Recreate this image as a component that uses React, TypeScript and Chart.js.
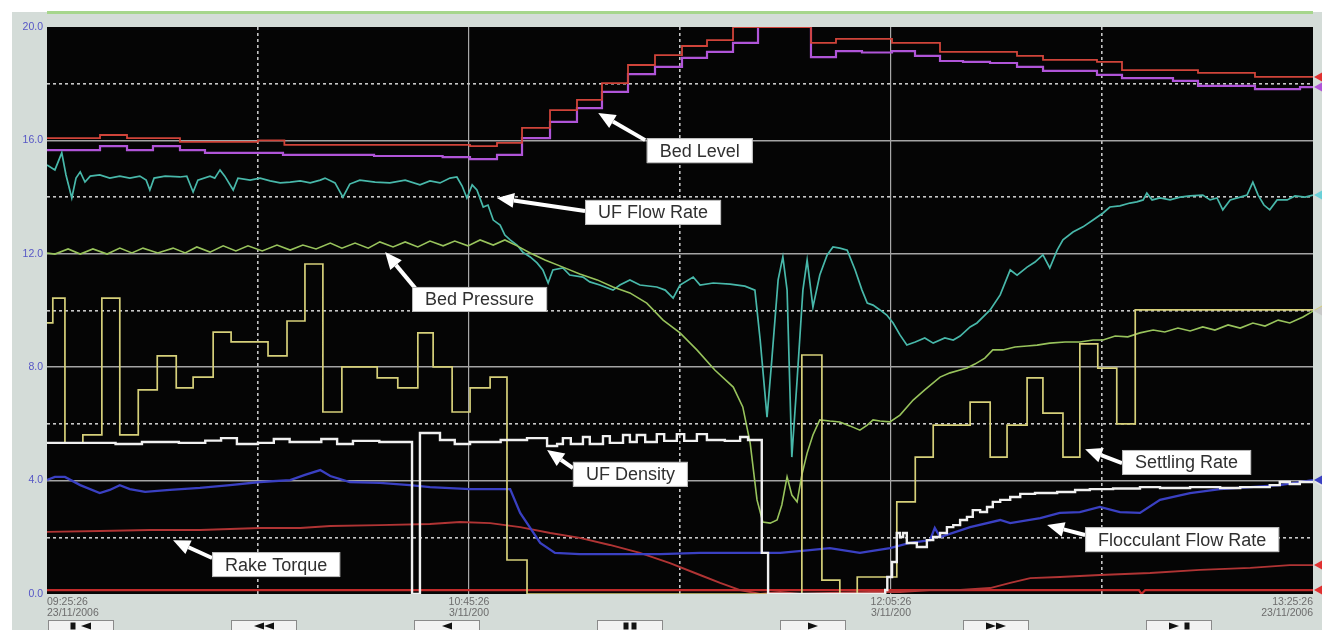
import React, { useEffect, useRef } from 'react';
import { Chart, registerables } from 'chart.js';

Chart.register(...registerables);

// ---- axis / tick labels (x in minutes from 09:25:26) ----
const tickMinutes = [0, 80, 160, 240];
const tickTimes = ['09:25:26', '10:45:26', '12:05:26', '13:25:26'];
const tickDates = ['23/11/2006', '3/11/200', '3/11/200', '23/11/2006'];
const yLabelValues = [0, 4, 8, 12, 16, 20];

// ---- Bed Level (two stepped traces) ----
const bedHiT = [0, 10.05, 15.17, 25.21, 40.0, 45.0, 80.19, 85.31, 90.05, 95.36, 100.47, 105.21, 110.14, 115.26, 120.38, 125.12, 130.05, 144.83, 149.57, 160.19, 169.29, 183.89, 188.82, 199.05, 203.79, 218.2, 229.0, 240];
const bedHiV = [16.08, 16.19, 16.08, 15.95, 16.0, 15.84, 15.8, 15.91, 16.44, 17.07, 17.43, 18.02, 18.66, 19.01, 19.33, 19.54, 20.0, 19.44, 19.58, 19.44, 19.12, 18.98, 18.84, 18.77, 18.48, 18.38, 18.24, 18.24];
const bedLoT = [0, 10.05, 15.17, 20.09, 25.21, 29.95, 44.74, 62.0, 75.0, 80.19, 85.31, 90.05, 95.36, 100.47, 105.21, 110.14, 115.26, 120.38, 125.12, 130.05, 134.79, 144.83, 149.57, 154.5, 160.19, 164.55, 169.29, 173.65, 178.77, 183.89, 188.82, 199.05, 203.79, 213.46, 218.2, 229.0, 237.54, 240];
const bedLoV = [15.66, 15.8, 15.66, 15.8, 15.66, 15.56, 15.49, 15.45, 15.41, 15.34, 15.49, 16.08, 16.65, 17.14, 17.71, 18.34, 18.59, 18.91, 19.12, 19.44, 20.0, 18.94, 19.15, 19.1, 19.15, 18.98, 18.8, 18.77, 18.73, 18.59, 18.45, 18.31, 18.2, 18.1, 17.92, 17.81, 17.88, 17.88];

// ---- UF Flow Rate ----
const ufFlowT = [0, 1.5, 2.8, 3.6, 4.7, 5.5, 6.3, 7.2, 8.2, 10.0, 11.9, 13.8, 15.7, 17.6, 18.8, 19.5, 20.3, 22.4, 25.2, 26.5, 27.7, 28.6, 30.9, 31.8, 32.8, 33.7, 35.3, 36.2, 38.5, 40.4, 42.3, 44.2, 46.1, 48.0, 49.9, 51.8, 52.7, 54.6, 56.1, 57.4, 59.3, 62.2, 65.0, 67.9, 70.7, 72.6, 74.5, 76.4, 77.7, 78.7, 79.6, 80.6, 81.5, 82.7, 83.6, 84.6, 85.9, 86.8, 87.8, 89.1, 90.2, 91.6, 92.9, 94.0, 95.0, 95.9, 97.8, 99.1, 101.6, 102.9, 104.8, 107.3, 108.6, 110.5, 112.4, 115.6, 117.2, 118.7, 120.0, 122.5, 123.8, 126.3, 129.5, 132.3, 134.2, 135.2, 136.5, 137.4, 138.6, 139.5, 140.3, 141.2, 142.2, 143.3, 144.1, 145.2, 146.5, 147.9, 149.0, 150.3, 151.7, 153.2, 154.5, 155.5, 156.6, 157.9, 159.2, 160.4, 161.7, 163.0, 164.6, 166.4, 168.0, 170.2, 171.8, 173.1, 175.0, 176.3, 177.8, 178.8, 180.7, 182.6, 183.9, 185.8, 187.3, 188.8, 190.1, 191.5, 192.6, 194.5, 196.4, 198.3, 200.2, 201.5, 203.4, 205.3, 206.6, 207.8, 208.5, 209.5, 211.0, 212.9, 214.8, 216.7, 219.1, 220.5, 221.8, 222.9, 224.3, 226.2, 227.5, 228.6, 229.6, 230.7, 231.8, 233.2, 235.1, 236.6, 238.5, 240];
const ufFlowV = [15.13, 14.96, 15.56, 14.78, 13.97, 14.67, 14.89, 14.53, 14.74, 14.78, 14.67, 14.74, 14.67, 14.74, 14.6, 14.25, 14.67, 14.74, 14.71, 14.74, 14.18, 14.6, 14.74, 14.67, 14.96, 14.74, 14.25, 14.67, 14.6, 14.67, 14.57, 14.5, 14.53, 14.57, 14.5, 14.6, 14.67, 14.5, 14.0, 14.46, 14.6, 14.53, 14.5, 14.6, 14.43, 14.57, 14.5, 14.67, 14.71, 14.39, 13.97, 14.43, 14.25, 13.65, 13.72, 13.19, 13.01, 12.66, 12.49, 12.31, 12.06, 11.89, 11.68, 11.43, 10.97, 11.43, 11.5, 11.25, 11.18, 11.01, 10.9, 10.72, 10.9, 11.08, 10.9, 10.83, 10.72, 10.44, 10.9, 11.18, 10.9, 10.97, 10.93, 10.86, 10.72, 8.96, 6.24, 8.25, 11.08, 11.89, 10.72, 4.83, 7.55, 10.72, 11.78, 10.12, 11.25, 11.96, 12.24, 12.2, 12.13, 11.43, 10.72, 10.26, 10.19, 10.02, 9.84, 9.56, 9.14, 8.78, 8.89, 9.03, 8.85, 9.03, 8.96, 9.1, 9.42, 9.56, 9.84, 10.02, 10.55, 11.43, 11.25, 11.53, 11.71, 11.96, 11.5, 12.13, 12.49, 12.77, 12.95, 13.19, 13.44, 13.65, 13.69, 13.79, 13.83, 13.9, 14.14, 13.9, 13.97, 13.9, 14.0, 14.04, 14.07, 13.9, 13.97, 13.55, 13.9, 14.0, 14.07, 14.53, 14.07, 13.72, 13.55, 13.9, 13.9, 14.04, 14.0, 14.07];

// ---- Bed Pressure ----
const bedPresT = [0, 1.5, 4.0, 6.3, 8.7, 11.4, 13.8, 16.1, 18.2, 21.0, 23.9, 26.2, 28.4, 30.9, 33.4, 35.8, 38.1, 40.8, 43.6, 46.1, 48.5, 51.0, 53.7, 55.9, 58.4, 60.9, 63.1, 65.6, 67.9, 70.3, 72.6, 75.1, 77.3, 79.8, 82.1, 84.6, 86.8, 89.1, 91.6, 94.4, 97.8, 101.0, 104.3, 107.3, 110.5, 113.7, 116.8, 120.0, 123.2, 126.6, 130.1, 131.9, 133.3, 134.6, 135.7, 137.1, 138.4, 139.3, 140.3, 141.2, 142.2, 143.1, 144.1, 145.2, 146.5, 148.4, 150.3, 152.2, 154.1, 155.5, 156.6, 157.9, 159.8, 161.7, 164.2, 166.4, 169.3, 171.2, 173.1, 174.4, 175.9, 177.8, 179.3, 181.2, 183.5, 185.8, 187.7, 190.1, 193.0, 195.8, 198.3, 200.2, 202.5, 204.9, 207.2, 209.7, 211.9, 214.4, 216.7, 219.1, 221.4, 223.9, 226.2, 228.6, 230.9, 233.4, 235.6, 238.1, 240];
const bedPresV = [12.03, 11.99, 12.17, 11.99, 12.17, 11.99, 12.2, 12.03, 12.2, 12.03, 12.2, 12.03, 12.24, 12.06, 12.28, 12.1, 12.28, 12.1, 12.31, 12.13, 12.31, 12.17, 12.38, 12.2, 12.38, 12.2, 12.42, 12.24, 12.42, 12.24, 12.45, 12.28, 12.45, 12.28, 12.49, 12.31, 12.49, 12.28, 12.03, 11.78, 11.53, 11.29, 11.08, 10.83, 10.62, 10.26, 9.66, 9.21, 8.61, 7.9, 7.3, 6.6, 5.33, 3.32, 2.54, 2.5, 2.61, 3.14, 4.13, 3.49, 3.25, 4.2, 4.97, 5.61, 6.14, 6.1, 6.07, 5.93, 5.78, 5.96, 6.14, 6.1, 6.07, 6.31, 6.84, 7.2, 7.65, 7.8, 7.9, 7.97, 8.11, 8.32, 8.61, 8.61, 8.71, 8.75, 8.78, 8.85, 8.89, 8.89, 8.96, 8.96, 9.1, 9.07, 9.21, 9.31, 9.24, 9.38, 9.28, 9.42, 9.31, 9.49, 9.38, 9.56, 9.45, 9.66, 9.56, 9.77, 9.98];

// ---- Settling Rate (stepped) ----
const settleT = [0, 1.1, 3.4, 6.8, 10.4, 13.8, 17.3, 20.9, 24.5, 27.7, 31.5, 34.9, 41.9, 45.5, 48.9, 52.3, 55.9, 62.6, 66.5, 70.3, 73.2, 76.8, 80.2, 84.0, 87.2, 91.0, 143.1, 146.9, 150.3, 153.6, 161.1, 164.6, 168.0, 175.0, 178.8, 182.0, 185.8, 188.8, 192.6, 195.8, 199.2, 202.8, 206.3, 240];
const settleV = [9.56, 10.44, 5.33, 5.61, 10.44, 5.61, 7.2, 8.4, 7.27, 7.65, 9.24, 8.89, 8.4, 9.63, 11.64, 6.42, 8.01, 7.62, 7.27, 9.21, 8.01, 6.42, 7.27, 7.65, 1.2, 0.0, 8.43, 0.49, 0.0, 0.6, 3.25, 4.83, 5.96, 6.77, 4.83, 5.96, 7.62, 6.38, 4.83, 8.82, 7.97, 6.0, 10.02, 10.02];

// ---- UF Density (stepped) ----
const ufDenT = [0, 13, 18, 25, 30, 33, 36, 40, 43, 46, 52, 55, 58, 63, 69.2, 70.7, 74.5, 77.3, 80.2, 86, 91, 93.5, 94.8, 96.7, 97.8, 99.3, 101.6, 102.9, 105.4, 106.7, 109.2, 110.5, 111.8, 113.4, 115.6, 117.0, 119.4, 120.8, 123.2, 125.1, 128.5, 131.4, 132.9, 135.5, 136.7, 158.9, 159.3, 160.2, 161.1, 161.7, 162.3, 163.0, 164.9, 166.8, 168.0, 169.3, 170.6, 171.8, 173.1, 174.4, 175.5, 176.9, 178.2, 179.3, 180.7, 182.6, 184.5, 187.3, 191.5, 194.9, 197.7, 202.1, 207.2, 211.0, 216.7, 222.4, 226.2, 231.8, 233.7, 235.6, 237.5, 240];
const ufDenV = [5.33, 5.29, 5.36, 5.33, 5.41, 5.5, 5.29, 5.33, 5.47, 5.36, 5.47, 5.29, 5.4, 5.36, 0, 5.68, 5.43, 5.29, 5.36, 5.43, 5.5, 5.5, 5.22, 5.29, 5.5, 5.29, 5.54, 5.29, 5.57, 5.33, 5.61, 5.36, 5.61, 5.36, 5.64, 5.4, 5.64, 5.4, 5.64, 5.43, 5.4, 5.54, 5.43, 1.45, 0, 0.14, 0.6, 1.13, 2.15, 2.01, 2.15, 1.8, 1.66, 1.9, 2.01, 2.15, 2.36, 2.43, 2.61, 2.72, 2.96, 2.89, 3.07, 3.25, 3.32, 3.42, 3.53, 3.56, 3.6, 3.67, 3.7, 3.72, 3.77, 3.74, 3.77, 3.74, 3.77, 3.84, 3.95, 3.88, 3.95, 3.95];

// ---- Flocculant Flow Rate ----
const flocT = [0, 1.5, 3.4, 6.3, 10.0, 11.9, 13.8, 15.7, 18.6, 23.3, 29.0, 34.7, 40.4, 46.1, 48.9, 51.8, 53.7, 57.4, 63.1, 68.8, 72.6, 80.2, 87.8, 89.7, 91.6, 93.5, 96.3, 101.0, 108.6, 116.2, 123.8, 131.4, 139.0, 144.6, 148.4, 154.1, 159.8, 163.6, 167.4, 168.3, 169.3, 175.0, 180.7, 182.6, 188.3, 192.0, 195.8, 199.6, 203.4, 207.2, 211.0, 216.7, 222.4, 228.1, 233.7, 240];
const flocV = [4.02, 4.13, 4.13, 3.84, 3.56, 3.67, 3.84, 3.7, 3.6, 3.67, 3.74, 3.84, 3.95, 4.02, 4.2, 4.37, 4.16, 3.95, 3.92, 3.84, 3.77, 3.7, 3.7, 2.86, 2.33, 1.8, 1.45, 1.41, 1.41, 1.41, 1.45, 1.45, 1.45, 1.55, 1.62, 1.45, 1.62, 1.8, 1.9, 2.33, 2.01, 2.36, 2.61, 2.5, 2.68, 2.86, 2.89, 3.07, 2.89, 2.86, 3.32, 3.56, 3.7, 3.77, 3.84, 4.02];

// ---- Rake Torque ----
const rakeT = [0, 10.0, 19.5, 29.0, 40.4, 48.0, 53.7, 63.1, 72.6, 78.3, 84.0, 89.7, 95.4, 101.0, 106.7, 112.4, 118.1, 123.8, 127.6, 131.4, 135.2, 139.0, 142.7, 148.4, 156.0, 161.7, 167.4, 173.1, 178.8, 182.6, 186.4, 192.0, 199.6, 209.1, 218.6, 228.1, 235.6, 240];
const rakeV = [2.19, 2.22, 2.26, 2.26, 2.33, 2.33, 2.4, 2.43, 2.47, 2.54, 2.5, 2.36, 2.15, 1.98, 1.73, 1.45, 1.09, 0.67, 0.39, 0.14, 0.0, 0.07, 0.0, 0.04, 0.07, 0.07, 0.14, 0.14, 0.21, 0.39, 0.56, 0.6, 0.67, 0.74, 0.85, 0.92, 1.02, 1.02];

// ---- low red reference trace ----
const baseT = [0, 207.0, 207.5, 208.2, 240];
const baseV = [0.14, 0.14, 0.0, 0.14, 0.14];

// ---- annotations (data coordinates) ----
const annoText = ['Bed Level', 'UF Flow Rate', 'Bed Pressure', 'UF Density', 'Rake Torque', 'Settling Rate', 'Flocculant Flow Rate'];
const annoBoxT = [113.7, 102.0, 69.2, 99.7, 31.3, 203.8, 196.8];
const annoBoxV = [16.08, 13.9, 10.83, 4.66, 1.48, 5.08, 2.36];
const annoTipT = [104.5, 85.3, 64.1, 94.8, 23.9, 196.8, 189.6];
const annoTipV = [16.97, 13.97, 12.06, 5.08, 1.9, 5.11, 2.43];
const annoTailT = [113.4, 102.0, 69.8, 99.7, 31.3, 203.8, 196.8];
const annoTailV = [16.01, 13.51, 10.79, 4.44, 1.27, 4.62, 2.08];

const buttonKinds = ['first', 'rew', 'back', 'pause', 'play', 'ff', 'last'];

const pts = (t: number[], v: number[]) => t.map((x, i) => ({ x, y: v[i] }));

const FONT = '"Liberation Sans", Arial, sans-serif';

const decoPlugin = {
  id: 'deco',
  beforeDraw(chart: any) {
    const { ctx, chartArea, width, height } = chart;
    ctx.save();
    ctx.fillStyle = '#ffffff';
    ctx.fillRect(0, 0, width, height);
    ctx.fillStyle = '#d4dcd8';
    ctx.fillRect(12, 12, width - 12, height - 12);
    ctx.fillStyle = '#a6d68c';
    ctx.fillRect(chartArea.left, 11, chartArea.right - chartArea.left, 3);
    ctx.fillStyle = '#050505';
    ctx.fillRect(chartArea.left, chartArea.top, chartArea.right - chartArea.left, chartArea.bottom - chartArea.top);
    ctx.restore();
  },
  afterDraw(chart: any) {
    const { ctx, chartArea } = chart;
    const xs = chart.scales.x;
    const ys = chart.scales.y;
    ctx.save();
    // right-edge value markers
    chart.data.datasets.forEach((ds: any, i: number) => {
      const meta = chart.getDatasetMeta(i);
      const last = meta.data[meta.data.length - 1];
      if (!last) return;
      const y = last.y;
      ctx.fillStyle = ds.markerColor || ds.borderColor;
      ctx.beginPath();
      ctx.moveTo(chartArea.right + 1, y);
      ctx.lineTo(chartArea.right + 9, y - 4.5);
      ctx.lineTo(chartArea.right + 9, y + 4.5);
      ctx.closePath();
      ctx.fill();
    });
    // annotations
    ctx.font = '18px ' + FONT;
    ctx.textBaseline = 'middle';
    ctx.textAlign = 'left';
    annoText.forEach((txt, i) => {
      const bx = xs.getPixelForValue(annoBoxT[i]);
      const by = ys.getPixelForValue(annoBoxV[i]);
      const tw = ctx.measureText(txt).width;
      const bw = tw + 26;
      const bh = 25;
      const tx = xs.getPixelForValue(annoTipT[i]);
      const ty = ys.getPixelForValue(annoTipV[i]);
      const sx = xs.getPixelForValue(annoTailT[i]);
      const sy = ys.getPixelForValue(annoTailV[i]);
      // arrow
      const ang = Math.atan2(ty - sy, tx - sx);
      const headLen = 17;
      const headW = 7.5;
      const hx = tx - headLen * Math.cos(ang);
      const hy = ty - headLen * Math.sin(ang);
      ctx.strokeStyle = '#ffffff';
      ctx.lineWidth = 4;
      ctx.lineCap = 'butt';
      ctx.beginPath();
      ctx.moveTo(sx, sy);
      ctx.lineTo(hx, hy);
      ctx.stroke();
      ctx.fillStyle = '#ffffff';
      ctx.beginPath();
      ctx.moveTo(tx, ty);
      ctx.lineTo(hx + headW * Math.sin(ang), hy - headW * Math.cos(ang));
      ctx.lineTo(hx - headW * Math.sin(ang), hy + headW * Math.cos(ang));
      ctx.closePath();
      ctx.fill();
      // box
      ctx.fillStyle = '#ffffff';
      ctx.fillRect(bx, by, bw, bh);
      ctx.strokeStyle = '#b8b8b8';
      ctx.lineWidth = 1;
      ctx.strokeRect(bx + 0.5, by + 0.5, bw - 1, bh - 1);
      ctx.fillStyle = '#303030';
      ctx.fillText(txt, bx + 13, by + bh / 2 + 1);
    });
    // navigation buttons under the axis
    const bTop = 620;
    buttonKinds.forEach((kind, i) => {
      const x0 = 48 + i * 183;
      const w = 66;
      ctx.fillStyle = '#f2f2f2';
      ctx.fillRect(x0, bTop, w, 14);
      ctx.strokeStyle = '#8a8a8a';
      ctx.lineWidth = 1;
      ctx.strokeRect(x0 + 0.5, bTop + 0.5, w - 1, 13);
      ctx.fillStyle = '#111111';
      const cx = x0 + w / 2;
      const cy = bTop + 6;
      const triL = (x: number) => { ctx.beginPath(); ctx.moveTo(x - 5, cy); ctx.lineTo(x + 5, cy - 3.5); ctx.lineTo(x + 5, cy + 3.5); ctx.closePath(); ctx.fill(); };
      const triR = (x: number) => { ctx.beginPath(); ctx.moveTo(x + 5, cy); ctx.lineTo(x - 5, cy - 3.5); ctx.lineTo(x - 5, cy + 3.5); ctx.closePath(); ctx.fill(); };
      const bar = (x: number) => ctx.fillRect(x - 2.5, cy - 3.5, 5, 7);
      if (kind === 'first') { bar(cx - 8); triL(cx + 5); }
      if (kind === 'rew') { triL(cx - 5); triL(cx + 5); }
      if (kind === 'back') { triL(cx); }
      if (kind === 'pause') { bar(cx - 4); bar(cx + 4); }
      if (kind === 'play') { triR(cx); }
      if (kind === 'ff') { triR(cx - 5); triR(cx + 5); }
      if (kind === 'last') { triR(cx - 5); bar(cx + 8); }
    });
    ctx.restore();
  },
};

export default function App() {
  const ref = useRef<HTMLCanvasElement | null>(null);
  useEffect(() => {
    if (!ref.current) return;
    const line = (label: string, t: number[], v: number[], color: string, width: number, stepped: boolean, marker?: string) => ({
      label,
      data: pts(t, v),
      borderColor: color,
      backgroundColor: color,
      borderWidth: width,
      pointRadius: 0,
      pointHoverRadius: 0,
      tension: 0,
      fill: false,
      stepped: stepped ? 'before' : false,
      markerColor: marker,
    });
    const chart = new Chart(ref.current, {
      type: 'line',
      data: {
        datasets: [
          line('UF Density', ufDenT, ufDenV, '#f0f0f0', 2.4, true, '#e8e8e8'),
          line('Settling Rate', settleT, settleV, '#d6d07a', 1.7, true),
          line('Bed Pressure', bedPresT, bedPresV, '#98c35c', 1.6, false, '#c8c8c8'),
          line('UF Flow Rate', ufFlowT, ufFlowV, '#48b8aa', 1.7, false, '#6ad0d8'),
          line('Bed Level A', bedHiT, bedHiV, '#d0443a', 1.8, true, '#e03030'),
          line('Bed Level B', bedLoT, bedLoV, '#b055d8', 2.2, true),
          line('Flocculant Flow Rate', flocT, flocV, '#3a40c2', 2.3, false),
          line('Rake Torque', rakeT, rakeV, '#b03434', 1.9, false, '#e03030'),
          line('Reference', baseT, baseV, '#c22a2a', 2.2, false, '#e03030'),
        ] as any,
      },
      options: {
        animation: false,
        responsive: true,
        maintainAspectRatio: false,
        events: [],
        layout: { padding: { top: 27, right: 9, left: 0, bottom: 0 } },
        plugins: { legend: { display: false }, tooltip: { enabled: false } },
        scales: {
          x: {
            type: 'linear',
            min: 0,
            max: 240,
            afterFit: (s: any) => { s.height = 36; },
            border: {
              display: false,
              dash: (c: any) => (c.tick && c.tick.value % 80 !== 0 ? [3, 3] : []),
            },
            grid: {
              drawTicks: false,
              lineWidth: (c: any) => (c.tick && c.tick.value % 80 !== 0 ? 1.6 : 1.2),
              color: (c: any) => {
                if (!c.tick) return 'rgba(0,0,0,0)';
                const v = c.tick.value;
                if (v === 0 || v === 240) return 'rgba(0,0,0,0)';
                return v % 80 === 0 ? '#a8a8a8' : '#c4c4c4';
              },
            },
            ticks: {
              stepSize: 40,
              autoSkip: false,
              maxRotation: 0,
              align: 'inner',
              padding: 3,
              color: '#6c6c6c',
              font: { family: FONT, size: 10.5, lineHeight: 1.05 },
              callback: (v: any) => {
                const i = tickMinutes.indexOf(Number(v));
                return i >= 0 ? [tickTimes[i], tickDates[i]] : '';
              },
            },
          },
          y: {
            min: 0,
            max: 20,
            afterFit: (s: any) => { s.width = 47; },
            border: {
              display: false,
              dash: (c: any) => (c.tick && c.tick.value % 4 !== 0 ? [3, 3] : []),
            },
            grid: {
              drawTicks: false,
              lineWidth: 1.6,
              color: (c: any) => {
                if (!c.tick) return 'rgba(0,0,0,0)';
                const v = c.tick.value;
                if (v === 0 || v === 20) return 'rgba(0,0,0,0)';
                return v % 4 === 0 ? '#a4a4a4' : '#c8c8c8';
              },
            },
            ticks: {
              stepSize: 2,
              autoSkip: false,
              padding: 4,
              color: '#5656c6',
              font: { family: FONT, size: 10.5 },
              callback: (v: any) => (yLabelValues.includes(Number(v)) ? Number(v).toFixed(1) : ''),
            },
          },
        },
      } as any,
      plugins: [decoPlugin],
    });
    return () => chart.destroy();
  }, []);
  return (
    <div style={{ position: 'fixed', left: 0, top: 0, width: 1322, height: 630, background: '#ffffff' }}>
      <canvas ref={ref} />
    </div>
  );
}
